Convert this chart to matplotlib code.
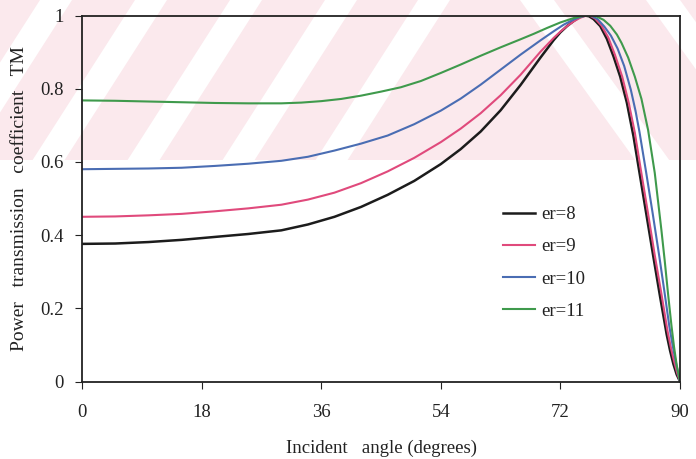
import matplotlib
matplotlib.use("Agg")
import matplotlib.pyplot as plt
from matplotlib.patches import Polygon, Rectangle

# Incident angle (degrees) and TM power transmission for each relative permittivity
angle_er8 = [0, 5, 10, 15, 20, 25, 30, 34, 38, 42, 46, 50, 54, 57, 60, 63, 66, 69, 71,
             72, 73, 74, 74.8, 75.6, 76.3, 77, 78, 79, 80, 81, 82, 83, 84, 85, 86, 87,
             88, 88.5, 89, 89.5, 90]
tm_er8 = [0.376, 0.377, 0.381, 0.387, 0.395, 0.403, 0.413, 0.429, 0.450, 0.477, 0.510,
          0.548, 0.594, 0.635, 0.683, 0.741, 0.810, 0.885, 0.933, 0.954, 0.971, 0.985,
          0.995, 1.000, 0.998, 0.990, 0.971, 0.936, 0.888, 0.833, 0.762, 0.670, 0.560,
          0.450, 0.340, 0.232, 0.128, 0.085, 0.048, 0.019, 0.0]

angle_er9 = [0, 5, 10, 15, 20, 25, 30, 34, 38, 42, 46, 50, 54, 57, 60, 63, 66, 69, 71,
             72, 73, 74, 75, 75.8, 76.4, 77.2, 78.2, 79.2, 80.2, 81.3, 82.3, 83.2, 84.2,
             85.2, 86.2, 87.2, 88.1, 88.6, 89.1, 89.6, 90]
tm_er9 = [0.450, 0.451, 0.454, 0.458, 0.465, 0.473, 0.483, 0.497, 0.516, 0.542, 0.574,
          0.611, 0.654, 0.691, 0.733, 0.782, 0.838, 0.901, 0.939, 0.956, 0.971, 0.984,
          0.994, 0.999, 1.000, 0.992, 0.972, 0.940, 0.893, 0.833, 0.760, 0.680, 0.568,
          0.458, 0.345, 0.240, 0.140, 0.095, 0.056, 0.022, 0.0]

angle_er10 = [0, 5, 10, 15, 20, 25, 30, 34, 38, 42, 46, 50, 54, 57, 60, 63, 66, 69, 71,
              72.5, 74, 75, 76, 76.8, 77.6, 78.6, 79.6, 80.6, 81.6, 82.6, 83.3, 83.9,
              84.9, 85.9, 86.9, 87.7, 88.4, 88.9, 89.3, 89.7, 90]
tm_er10 = [0.580, 0.581, 0.582, 0.584, 0.589, 0.595, 0.603, 0.614, 0.631, 0.650, 0.672,
           0.703, 0.740, 0.773, 0.811, 0.852, 0.893, 0.932, 0.957, 0.975, 0.989, 0.996,
           1.000, 0.998, 0.990, 0.970, 0.945, 0.910, 0.862, 0.797, 0.740, 0.682, 0.572,
           0.458, 0.340, 0.240, 0.150, 0.098, 0.060, 0.025, 0.0]

angle_er11 = [0, 5, 10, 15, 20, 25, 30, 33, 36, 39, 42, 45, 48, 51, 54, 57, 60, 63, 66,
              68, 70, 72, 74, 75.5, 76.5, 77.5, 78.5, 79.5, 80.5, 81.2, 82.2, 83.2, 84.2,
              85.2, 86.2, 87.2, 87.7, 88.2, 88.7, 89.1, 89.5, 90]
tm_er11 = [0.768, 0.767, 0.765, 0.763, 0.761, 0.760, 0.760, 0.762, 0.766, 0.772, 0.781,
           0.792, 0.804, 0.821, 0.843, 0.866, 0.890, 0.913, 0.935, 0.950, 0.966, 0.981,
           0.993, 0.999, 1.000, 0.997, 0.988, 0.972, 0.948, 0.925, 0.885, 0.833, 0.772,
           0.687, 0.570, 0.414, 0.330, 0.240, 0.155, 0.095, 0.045, 0.0]

series_labels = ["er=8", "er=9", "er=10", "er=11"]
series_colors = ["#1c1c1c", "#e04a7c", "#4a6db3", "#3f9a4c"]

x_ticks = [0, 18, 36, 54, 72, 90]
y_ticks = [0, 0.2, 0.4, 0.6, 0.8, 1]
y_tick_labels = ["0", "0.2", "0.4", "0.6", "0.8", "1"]

plt.rcParams["font.family"] = ["Liberation Serif", "DejaVu Serif"]

W, H = 696.0, 459.0
fig = plt.figure(figsize=(W / 100, H / 100), dpi=100)
fig.patch.set_facecolor("white")

# faint pink striped band across the top of the page
band_bot = 160.0
pink = "#fbe9ed"
fig.patches.append(Rectangle((0, 1 - band_bot / H), 1, band_bot / H,
                             transform=fig.transFigure, facecolor=pink,
                             edgecolor="none", zorder=0))


def stripe(x_top, width, dxdy):
    # white band from the top edge down to the bottom of the pink band
    pts = [(x_top, 0), (x_top + width, 0),
           (x_top + width + dxdy * band_bot, band_bot), (x_top + dxdy * band_bot, band_bot)]
    pts = [(px / W, 1 - py / H) for px, py in pts]
    fig.patches.append(Polygon(pts, closed=True, transform=fig.transFigure,
                               facecolor="white", edgecolor="none", zorder=0.5))


for xt in [40, 135, 230, 325, 418]:
    stripe(xt, 32, -0.64)
for xt in [520, 646]:
    stripe(xt, 34, 0.72)

ax = fig.add_axes([82 / W, 1 - 381.5 / H, (680 - 82) / W, (381.5 - 15.5) / H])
ax.set_facecolor("none")
ax.set_zorder(5)

series = [(angle_er8, tm_er8), (angle_er9, tm_er9), (angle_er10, tm_er10), (angle_er11, tm_er11)]
for (xs, ys), lab, col in zip(series, series_labels, series_colors):
    ax.plot(xs, ys, color=col, lw=1.8 if col == "#1c1c1c" else 1.5, label=lab,
            solid_joinstyle="round")

ax.set_xlim(0, 90)
ax.set_ylim(0, 1)
ax.set_xticks(x_ticks)
ax.set_xticklabels([str(t) for t in x_ticks])
ax.set_yticks(y_ticks)
ax.set_yticklabels(y_tick_labels)
ax.tick_params(direction="out", length=5, width=0.8, labelsize=13.5, colors="#222222",
               pad=8)
ax.tick_params(axis="x", pad=11)
for sp in ax.spines.values():
    sp.set_linewidth(1.3)
    sp.set_color("#222222")

ax.set_xlabel("Incident   angle (degrees)", fontsize=13.5, color="#222222", labelpad=14)
ax.set_ylabel("Power   transmission   coefficient   TM", fontsize=14, color="#222222",
              labelpad=9)

leg = ax.legend(loc="upper left", bbox_to_anchor=(0.675, 0.525), frameon=False,
                fontsize=13.5, handlelength=1.75, handletextpad=0.3, labelspacing=0.8)
for t in leg.get_texts():
    t.set_color("#222222")

fig.savefig("out.png", dpi=100, facecolor="white")
